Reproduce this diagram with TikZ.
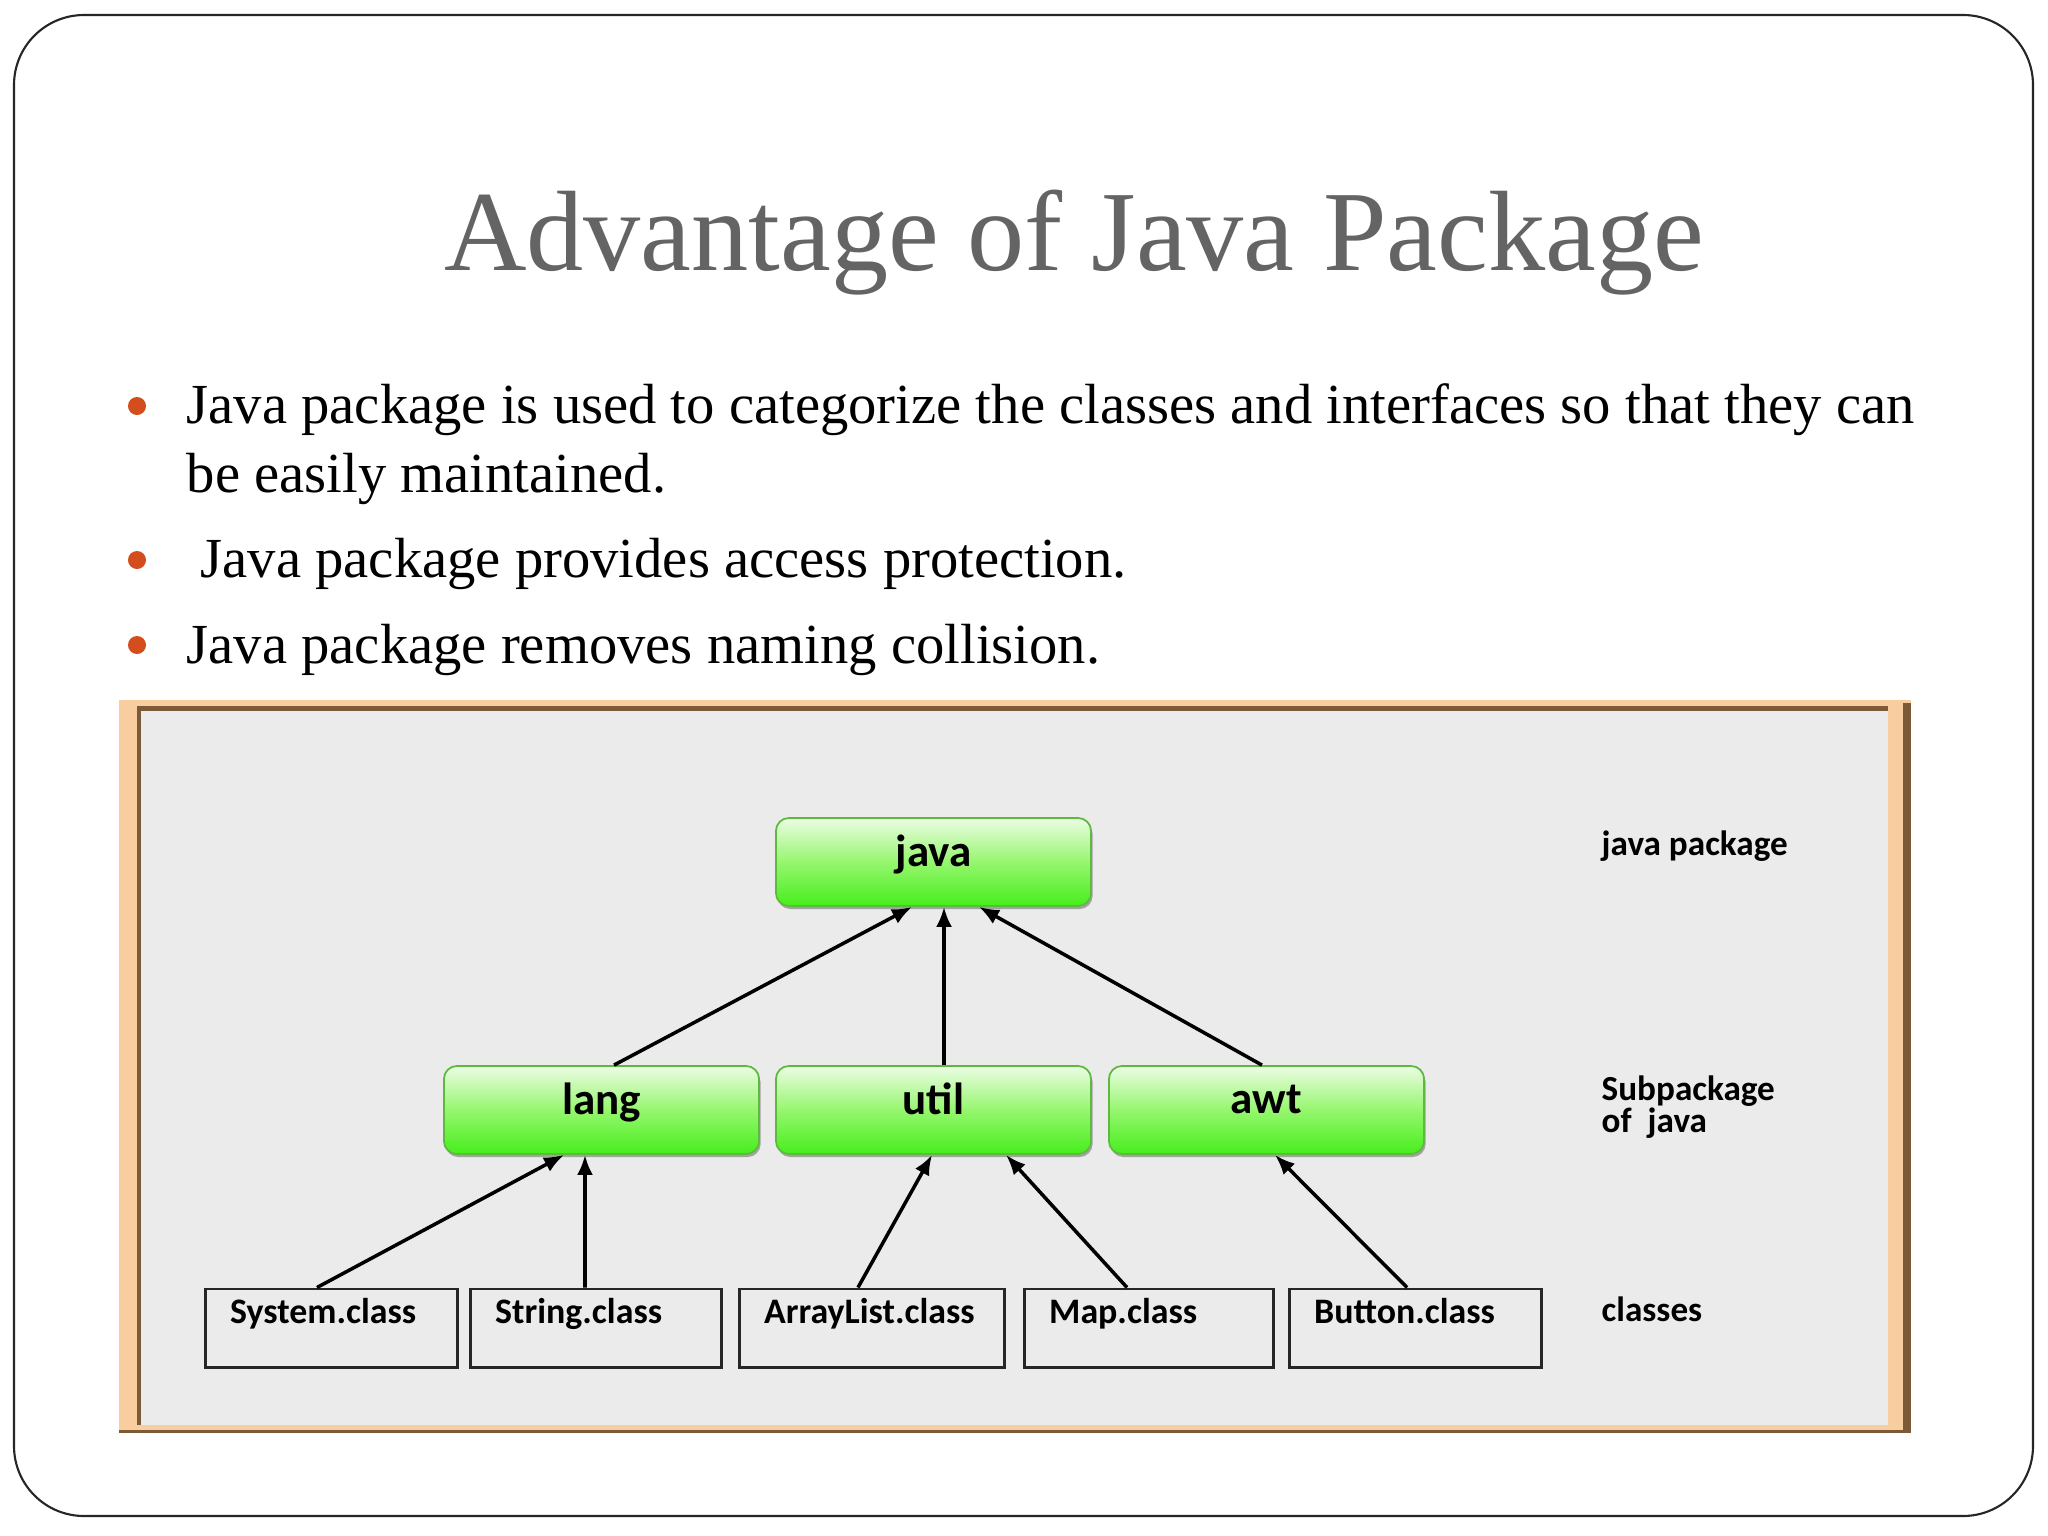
\documentclass[tikz,border=0pt]{standalone}
\usepackage{fontspec}
\setmainfont{Liberation Serif}
\newfontfamily\calib{Carlito}
\usetikzlibrary{arrows.meta,shadows}
\definecolor{titlegray}{RGB}{100,100,100}
\definecolor{bulletred}{RGB}{212,77,28}
\definecolor{peach}{RGB}{248,205,160}
\definecolor{framebrown}{RGB}{125,90,55}
\definecolor{panelgray}{RGB}{235,235,235}
\definecolor{gtop}{RGB}{236,253,228}
\definecolor{gmid}{RGB}{150,246,110}
\definecolor{gbot}{RGB}{70,238,28}
\definecolor{gborder}{RGB}{95,185,65}
\begin{document}
\begin{tikzpicture}[x=0.01cm,y=-0.01cm,
  pkg/.style={draw=gborder, line width=0.5pt, rounded corners=0.13cm,
    top color=gtop, bottom color=gbot, middle color=gmid,
    minimum width=3.15cm, minimum height=0.88cm, inner sep=0pt,
    font=\calib\bfseries\fontsize{12.8pt}{14pt}\selectfont,
    drop shadow={shadow xshift=0.015cm, shadow yshift=-0.03cm, fill=black!55, opacity=0.6}},
  cls/.style={draw=black!85, line width=0.85pt, minimum height=0.78cm, inner sep=0pt},
  clslabel/.style={font=\calib\bfseries\fontsize{10.2pt}{12pt}\selectfont, inner sep=0pt,
    anchor=north west, xshift=0.25cm, yshift=-0.10cm},
  side/.style={font=\calib\bfseries\fontsize{10pt}{12pt}\selectfont, inner sep=0pt, anchor=base west},
  link/.style={line width=1pt, -{Latex[length=0.2cm,width=0.16cm]}},
  btext/.style={font=\fontsize{16.1pt}{19pt}\selectfont, inner sep=0pt, anchor=base west},
  dot/.style={circle, fill=bulletred, minimum size=0.18cm, inner sep=0pt}]
\useasboundingbox (0,0) rectangle (2048,1536);
\fill[white] (0,0) rectangle (2048,1536);
% slide frame
\draw[black!85, line width=0.6pt, rounded corners=0.7cm] (14,15) rectangle (2033,1516);
% title
\node[font=\fontsize{32.5pt}{38pt}\selectfont, text=titlegray, inner sep=0pt, anchor=base] (title) at (1074,270) {Advantage of Java Package};
% bullets
\node[dot] (d1) at (137,406) {};
\node[btext] (b1) at (186,423) {Java package is used to categorize the classes and interfaces so that they can};
\node[btext] (b1b) at (186,492) {be easily maintained.};
\node[dot] (d2) at (137,560) {};
\node[btext] (b2) at (200,577) {Java package provides access protection.};
\node[dot] (d3) at (137,645) {};
\node[btext] (b3) at (186,663) {Java package removes naming collision.};
% picture frame
\fill[peach] (119,700) rectangle (1911,1433);
\fill[framebrown] (137,706) rectangle (1888,711);
\fill[framebrown] (137,706) rectangle (141,1425);
\fill[framebrown] (1903,703) rectangle (1911,1433);
\fill[framebrown] (119,1430) rectangle (1911,1433);
\fill[panelgray] (141,711) rectangle (1888,1425);
% package nodes
\node[pkg] (java) at (933.5,862) {\raisebox{0.23cm}{java}};
\node[pkg] (lang) at (601.5,1110) {\raisebox{0.22cm}{lang}};
\node[pkg] (util) at (933.5,1110) {\raisebox{0.22cm}{util}};
\node[pkg] (awt) at (1266.5,1110) {\raisebox{0.22cm}{awt}};
% class boxes
\node[cls, minimum width=2.51cm, label={[clslabel]north west:System.class}] (system) at (331.5,1328) {};
\node[cls, minimum width=2.50cm, label={[clslabel]north west:String.class}] (string) at (596,1328) {};
\node[cls, minimum width=2.64cm, label={[clslabel]north west:ArrayList.class}] (arraylist) at (872,1328) {};
\node[cls, minimum width=2.48cm, label={[clslabel]north west:Map.class}] (map) at (1149,1328) {};
\node[cls, minimum width=2.51cm, label={[clslabel]north west:Button.class}] (button) at (1415.5,1328) {};
% connectors
\draw[link] ([xshift=0.125cm]lang.north) -- ([xshift=-0.215cm]java.south);
\draw[link] ([xshift=0.105cm]util.north) -- ([xshift=0.105cm]java.south);
\draw[link] ([xshift=-0.045cm]awt.north) -- ([xshift=0.455cm]java.south);
\draw[link] ([xshift=-0.145cm]system.north) -- ([xshift=-0.375cm]lang.south);
\draw[link] ([xshift=-0.11cm]string.north) -- ([xshift=-0.165cm]lang.south);
\draw[link] ([xshift=-0.14cm]arraylist.north) -- ([xshift=-0.015cm]util.south);
\draw[link] ([xshift=-0.22cm]map.north) -- ([xshift=0.725cm]util.south);
\draw[link] ([xshift=-0.085cm]button.north) -- ([xshift=0.085cm]awt.south);
% side labels
\node[side] (lab1) at (1601,855) {java package};
\node[side] (lab2) at (1601,1100) {Subpackage};
\node[side] (lab3) at (1601,1132) {of\hspace{0.08cm} java};
\node[side] (lab4) at (1601,1321) {classes};
\end{tikzpicture}
\end{document}
